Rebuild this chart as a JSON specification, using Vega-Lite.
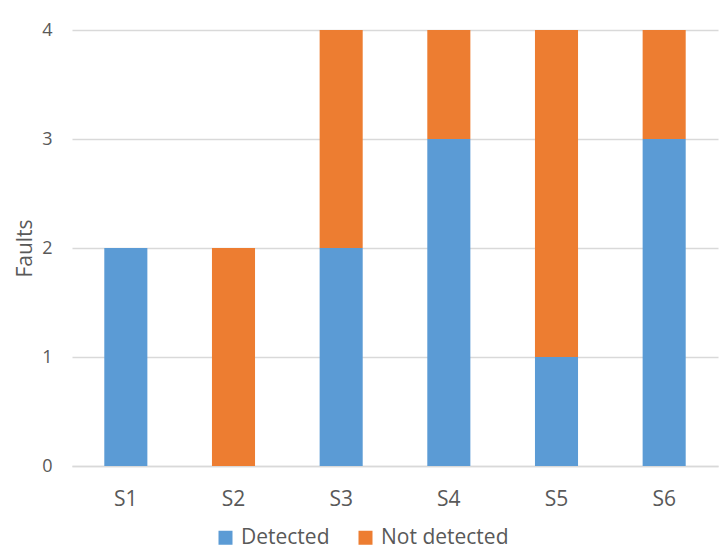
{
  "$schema": "https://vega.github.io/schema/vega-lite/v6.json",
  "width": 646,
  "height": 436,
  "autosize": {"type": "none"},
  "padding": {"left": 72, "top": 30, "right": 1, "bottom": 90},
  "background": "white",
  "data": {
    "values": [
      {"system": "S1", "status": "Detected", "faults": 2},
      {"system": "S1", "status": "Not detected", "faults": 0},
      {"system": "S2", "status": "Detected", "faults": 0},
      {"system": "S2", "status": "Not detected", "faults": 2},
      {"system": "S3", "status": "Detected", "faults": 2},
      {"system": "S3", "status": "Not detected", "faults": 2},
      {"system": "S4", "status": "Detected", "faults": 3},
      {"system": "S4", "status": "Not detected", "faults": 1},
      {"system": "S5", "status": "Detected", "faults": 1},
      {"system": "S5", "status": "Not detected", "faults": 3},
      {"system": "S6", "status": "Detected", "faults": 3},
      {"system": "S6", "status": "Not detected", "faults": 1}
    ]
  },
  "mark": {"type": "bar"},
  "encoding": {
    "x": {
      "field": "system",
      "type": "nominal",
      "scale": {"paddingInner": 0.6, "paddingOuter": 0.3},
      "axis": {
        "title": null,
        "labelAngle": 0,
        "ticks": false,
        "domainColor": "#d9d9d9",
        "domainWidth": 1.5,
        "labelFontSize": 21,
        "labelPadding": 22,
        "labelColor": "#595959",
        "labelFont": "Open Sans"
      }
    },
    "y": {
      "field": "faults",
      "type": "quantitative",
      "stack": "zero",
      "scale": {"domain": [0, 4], "nice": false},
      "axis": {
        "title": "Faults",
        "values": [0, 1, 2, 3, 4],
        "format": "d",
        "domain": false,
        "ticks": false,
        "gridColor": "#d9d9d9",
        "gridWidth": 1.5,
        "labelFontSize": 18,
        "labelPadding": 20,
        "labelColor": "#595959",
        "labelFont": "Open Sans",
        "titleFont": "Open Sans",
        "titleFontSize": 21,
        "titleFontWeight": "normal",
        "titleColor": "#595959",
        "titlePadding": 6
      }
    },
    "color": {
      "field": "status",
      "type": "nominal",
      "scale": {"domain": ["Detected", "Not detected"], "range": ["#5b9bd5", "#ed7d31"]},
      "legend": {
        "title": null,
        "orient": "none",
        "direction": "horizontal",
        "legendX": 143,
        "legendY": 497,
        "symbolType": "square",
        "symbolSize": 196,
        "symbolStrokeWidth": 0,
        "labelFontSize": 21,
        "labelFont": "Open Sans",
        "labelColor": "#595959",
        "labelOffset": 5,
        "columnPadding": 25
      }
    },
    "order": {"field": "status", "sort": "ascending"}
  },
  "config": {"view": {"stroke": null}}
}
